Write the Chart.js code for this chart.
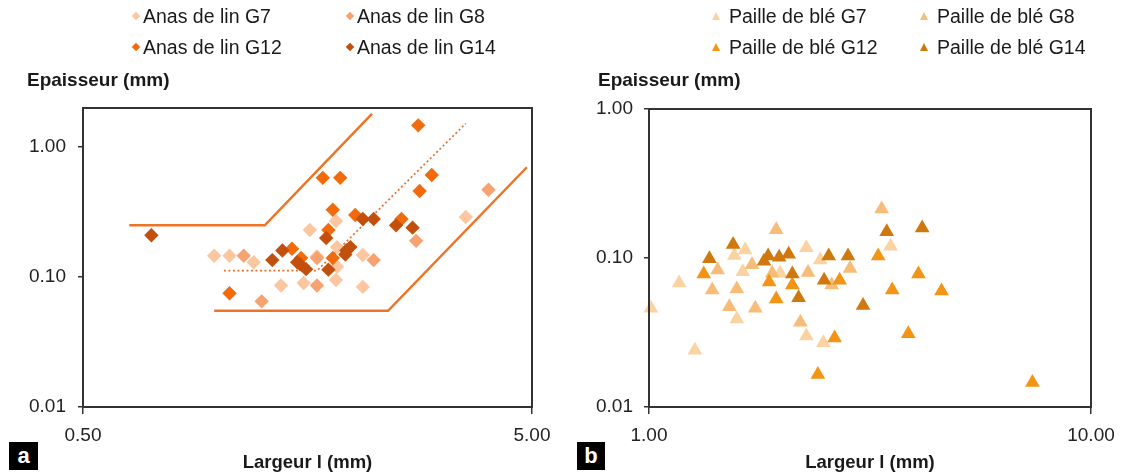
<!DOCTYPE html>
<html>
<head>
<meta charset="utf-8">
<script src="https://cdn.jsdelivr.net/npm/chart.js@4/dist/chart.umd.min.js"></script>
<style>
  html, body { margin:0; padding:0; background:#fff; }
  body { width:1132px; height:473px; position:relative; overflow:hidden; font-family:"Liberation Sans", Arial, sans-serif; color:#1a1a1a; }
  .cv { position:absolute; top:0; }
  .leg { position:absolute; font-size:19.5px; line-height:22px; white-space:nowrap; }
  .mk { position:absolute; }
  .dia { width:6px; height:6px; transform:rotate(45deg); }
  .tri { width:0; height:0; border-left:4.5px solid transparent; border-right:4.5px solid transparent; border-bottom-width:8px; border-bottom-style:solid; }
  .ytitle { position:absolute; font-weight:bold; font-size:19px; line-height:22px; white-space:nowrap; }
  .badge { position:absolute; background:#000; color:#fff; font-weight:bold; font-size:22px; text-align:center; }
</style>
</head>
<body>
<canvas id="c1" class="cv" style="left:0px" width="566" height="473"></canvas>
<canvas id="c2" class="cv" style="left:566px" width="566" height="473"></canvas>
<div id="overlay"></div>
<script>
// ---------- data : panel a (Anas de lin) ----------
const anasG7  = [[0.98,0.146],[1.06,0.146],[1.20,0.13],[1.60,0.23],[1.83,0.27],[1.38,0.086],[1.55,0.09],[1.83,0.095],[2.10,0.084],[2.10,0.148],[1.66,0.144],[1.84,0.17],[1.84,0.12],[3.56,0.29]];
const anasG8  = [[1.14,0.146],[1.25,0.065],[1.66,0.086],[2.22,0.135],[2.76,0.19],[4.0,0.47],[1.66,0.14]];
const anasG12 = [[1.06,0.075],[1.46,0.165],[1.53,0.14],[1.76,0.23],[1.80,0.14],[1.80,0.33],[1.71,0.58],[1.87,0.58],[2.02,0.30],[2.56,0.28],[2.79,1.47],[2.81,0.46],[2.99,0.61]];
const anasG14 = [[0.71,0.21],[1.32,0.135],[1.39,0.16],[1.50,0.13],[1.52,0.126],[1.57,0.115],[1.74,0.20],[1.76,0.114],[1.92,0.149],[1.93,0.16],[1.97,0.17],[2.10,0.28],[2.22,0.28],[2.49,0.25],[2.71,0.24]];
const upperX  = [0.634, 1.27, 2.2];   const upperY  = [0.25, 0.25, 1.8];
const lowerX  = [0.98, 2.39, 4.87];   const lowerY  = [0.055, 0.055, 0.70];
const medianX = [1.03, 1.66, 3.56];   const medianY = [0.112, 0.112, 1.52];
const aXTicks = [0.5, 5];
const aYTicks = [0.01, 0.1, 1];

// ---------- data : panel b (Paille de blé) ----------
const pailleG7  = [[1.01,0.046],[1.17,0.068],[1.27,0.024],[1.58,0.039],[1.63,0.081],[1.56,0.104],[1.65,0.113],[2.27,0.117],[2.27,0.030],[2.48,0.027],[2.44,0.097],[3.52,0.120],[1.98,0.079]];
const pailleG8  = [[1.39,0.061],[1.52,0.047],[1.58,0.062],[1.74,0.046],[1.94,0.155],[2.20,0.037],[3.36,0.213],[2.59,0.066],[1.43,0.083],[1.71,0.090],[2.29,0.080],[2.85,0.085],[1.90,0.079]];
const pailleG12 = [[1.33,0.078],[1.87,0.069],[1.94,0.053],[2.11,0.066],[2.41,0.0165],[2.63,0.029],[2.70,0.071],[3.30,0.103],[3.55,0.061],[3.86,0.031],[4.07,0.078],[4.59,0.060],[7.37,0.0146]];
const pailleG14 = [[1.37,0.099],[1.55,0.123],[1.82,0.095],[1.86,0.103],[1.97,0.101],[2.07,0.106],[2.11,0.078],[2.18,0.054],[2.49,0.071],[2.55,0.103],[2.82,0.103],[3.05,0.048],[3.45,0.150],[4.15,0.159]];
const bXTicks = [1, 10];
const bYTicks = [0.01, 0.1, 1];

const labelsA = ['Anas de lin G7','Anas de lin G8','Anas de lin G12','Anas de lin G14'];
const labelsB = ['Paille de blé G7','Paille de blé G8','Paille de blé G12','Paille de blé G14'];
const colA = ['#fbc6a0','#f6a271','#f26a0c','#c2500c'];
const colB = ['#fbd3a2','#f7bc78','#f39414','#cf780e'];

// ---------- helpers ----------
const FONT = '"Liberation Sans", Arial, sans-serif';
const pts = arr => arr.map(p => ({x:p[0], y:p[1]}));
const line = (xs, ys) => xs.map((x,i) => ({x, y:ys[i]}));

const frame = { id:'frame', afterDatasetsDraw(chart){
  const {ctx, chartArea:a} = chart;
  ctx.save(); ctx.strokeStyle = '#333'; ctx.lineWidth = 2;
  ctx.strokeRect(a.left, a.top, a.right-a.left, a.bottom-a.top);
  ctx.restore();
}};

function scales(xMin, xMax, yMin, yMax, xT, yT, yPad){
  return {
    x: { type:'logarithmic', position:'bottom', min:xMin, max:xMax,
      afterBuildTicks: s => { s.ticks = xT.map(v => ({value:v})); },
      afterFit: s => { s.height = 66; },
      ticks: { callback: v => Number(v).toFixed(2), autoSkip:false, maxRotation:0, padding:10, color:'#222', font:{family:FONT, size:19} },
      grid: { drawOnChartArea:false, drawTicks:true, tickLength:7, color:'#333', lineWidth:1.5 },
      border: { display:true, color:'#333', width:2 },
      title: { display:true, text:'Largeur l (mm)', color:'#1a1a1a', font:{family:FONT, size:18.5, weight:'bold', lineHeight:1}, padding:{top:0, bottom:1} }
    },
    y: { type:'logarithmic', position:'left', min:yMin, max:yMax,
      afterBuildTicks: s => { s.ticks = yT.map(v => ({value:v})); },
      afterFit: s => { s.width = 83; },
      ticks: { callback: v => Number(v).toFixed(2), autoSkip:false, padding:yPad, color:'#222', font:{family:FONT, size:19} },
      grid: { drawOnChartArea:false, drawTicks:true, tickLength:5, color:'#333', lineWidth:1.5 },
      border: { display:true, color:'#333', width:2 }
    }
  };
}

const commonPlugins = { legend:{display:false}, tooltip:{enabled:false}, title:{display:false} };

// ---------- panel a ----------
const dsA = [
  {label:labelsA[3], data:pts(anasG14), backgroundColor:colA[3], borderColor:colA[3]},
  {label:labelsA[2], data:pts(anasG12), backgroundColor:colA[2], borderColor:colA[2]},
  {label:labelsA[1], data:pts(anasG8),  backgroundColor:colA[1], borderColor:colA[1]},
  {label:labelsA[0], data:pts(anasG7),  backgroundColor:colA[0], borderColor:colA[0]},
].map(d => Object.assign(d, {pointStyle:'rectRot', pointRadius:7.2, borderWidth:0, showLine:false, clip:false}));
dsA.push(
  {label:'limite haute', data:line(upperX, upperY), showLine:true, pointRadius:0, borderColor:'#ef7326', borderWidth:2.5, fill:false},
  {label:'limite basse', data:line(lowerX, lowerY), showLine:true, pointRadius:0, borderColor:'#ef7326', borderWidth:2.5, fill:false},
  {label:'médiane', data:line(medianX, medianY), showLine:true, pointRadius:0, borderColor:'#e0702c', borderWidth:1.7, borderDash:[2,2.5], fill:false}
);

new Chart(document.getElementById('c1'), {
  type:'scatter',
  data:{ datasets: dsA },
  options:{ responsive:false, animation:false, events:[],
    layout:{ padding:{ top:108, right:34, left:0, bottom:0 } },
    scales: scales(0.5, 5, 0.01, 2, aXTicks, aYTicks, 12),
    plugins: commonPlugins },
  plugins:[frame]
});

// ---------- panel b ----------
const dsB = [
  {label:labelsB[3], data:pts(pailleG14), backgroundColor:colB[3], borderColor:colB[3]},
  {label:labelsB[2], data:pts(pailleG12), backgroundColor:colB[2], borderColor:colB[2]},
  {label:labelsB[1], data:pts(pailleG8),  backgroundColor:colB[1], borderColor:colB[1]},
  {label:labelsB[0], data:pts(pailleG7),  backgroundColor:colB[0], borderColor:colB[0]},
].map(d => Object.assign(d, {pointStyle:'triangle', pointRadius:8.5, borderWidth:0, showLine:false, clip:false}));

new Chart(document.getElementById('c2'), {
  type:'scatter',
  data:{ datasets: dsB },
  options:{ responsive:false, animation:false, events:[],
    layout:{ padding:{ top:109, right:41, left:0, bottom:0 } },
    scales: scales(1, 10, 0.01, 1, bXTicks, bYTicks, 11),
    plugins: commonPlugins },
  plugins:[frame]
});

// ---------- HTML legends, y titles, panel badges ----------
const ov = document.getElementById('overlay');
function add(html){ ov.insertAdjacentHTML('beforeend', html); }
function legendItem(x, y, text, color, shape){
  const mk = shape === 'dia'
    ? `<div class="mk dia" style="left:${x-3}px;top:${y-3}px;background:${color}"></div>`
    : `<div class="mk tri" style="left:${x-4.5}px;top:${y-4.5}px;border-bottom-color:${color}"></div>`;
  add(mk + `<div class="leg" style="left:${x+(shape==='dia'?7:13)}px;top:${y-11}px">${text}</div>`);
}
const rowsY = [16, 47];
legendItem(136, rowsY[0], labelsA[0], colA[0], 'dia');
legendItem(350, rowsY[0], labelsA[1], colA[1], 'dia');
legendItem(136, rowsY[1], labelsA[2], colA[2], 'dia');
legendItem(350, rowsY[1], labelsA[3], colA[3], 'dia');
legendItem(716, rowsY[0], labelsB[0], colB[0], 'tri');
legendItem(924, rowsY[0], labelsB[1], colB[1], 'tri');
legendItem(716, rowsY[1], labelsB[2], colB[2], 'tri');
legendItem(924, rowsY[1], labelsB[3], colB[3], 'tri');

add('<div class="ytitle" style="left:27px;top:69px">Epaisseur (mm)</div>');
add('<div class="ytitle" style="left:598px;top:69px">Epaisseur (mm)</div>');
add('<div class="badge" style="left:9px;top:442px;width:29px;height:28px;line-height:27px">a</div>');
add('<div class="badge" style="left:577px;top:442px;width:28px;height:28px;line-height:27px">b</div>');
</script>
</body>
</html>
